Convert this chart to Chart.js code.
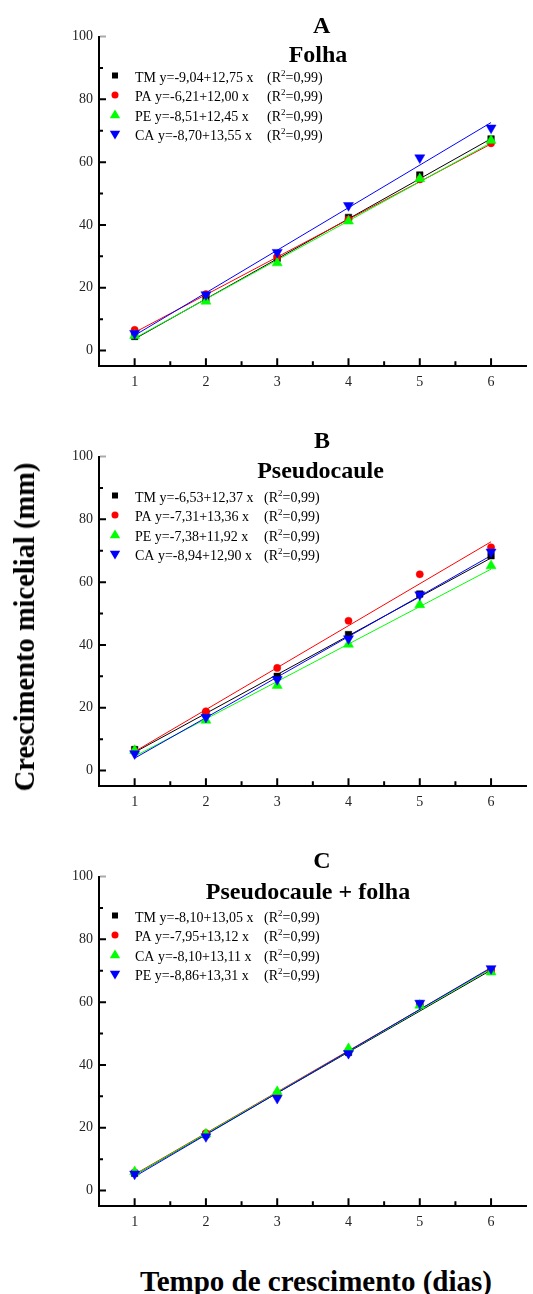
<!DOCTYPE html>
<html>
<head>
<meta charset="utf-8">
<script src="https://cdn.jsdelivr.net/npm/chart.js@4.4.1/dist/chart.umd.min.js"></script>
<style>
  body { margin: 0; background: #fff; }
  #page {
    position: relative;
    width: 533px;
    height: 1294px;
    overflow: hidden;
    font-family: "Liberation Serif", "Times New Roman", serif;
  }
  canvas { position: absolute; left: 0; }
  .axis-title {
    position: absolute;
    font-weight: bold;
    white-space: nowrap;
    color: #000;
  }
  #yTitle { font-size: 28.5px; line-height: 28px; left: 25px; top: 626.5px; transform: translate(-50%, -50%) rotate(-90deg); }
  #xTitle { font-size: 29px; line-height: 28px; left: 316px; top: 1267px; transform: translateX(-50%); }
</style>
</head>
<body>
<div id="page">
  <canvas id="chartA" width="533" height="400" style="top:0px"></canvas>
  <canvas id="chartB" width="533" height="400" style="top:420px"></canvas>
  <canvas id="chartC" width="533" height="400" style="top:840px"></canvas>
  <div class="axis-title" id="yTitle">Crescimento micelial (mm)</div>
  <div class="axis-title" id="xTitle">Tempo de crescimento (dias)</div>
</div>
<script>
const FONT = '"Liberation Serif", "Times New Roman", serif';

const days = [1, 2, 3, 4, 5, 6];
const fitDays = [1, 6];
const yTicks = [0, 20, 40, 60, 80, 100];
const yMinorTicks = [10, 30, 50, 70, 90];
const xMinorTicks = [1.5, 2.5, 3.5, 4.5, 5.5];

// A - Folha
const folhaNames = ["TM", "PA", "PE", "CA"];
const folhaEq = ["y=-9,04+12,75 x", "y=-6,21+12,00 x", "y=-8,51+12,45 x", "y=-8,70+13,55 x"];
const folhaR2 = ["0,99", "0,99", "0,99", "0,99"];
const folhaTM = [4.5, 16.6, 29.4, 42.4, 55.9, 67.4];
const folhaPA = [6.6, 18.0, 29.9, 41.8, 54.5, 66.0];
const folhaPE = [4.8, 15.7, 27.9, 41.2, 54.7, 66.9];
const folhaCA = [5.5, 17.8, 31.3, 46.2, 61.4, 70.9];
const folhaFitTM = [3.71, 67.46];
const folhaFitPA = [5.79, 65.79];
const folhaFitPE = [3.94, 66.19];
const folhaFitCA = [4.85, 72.60];

// B - Pseudocaule
const pseudoNames = ["TM", "PA", "PE", "CA"];
const pseudoEq = ["y=-6,53+12,37 x", "y=-7,31+13,36 x", "y=-7,38+11,92 x", "y=-8,94+12,90 x"];
const pseudoR2 = ["0,99", "0,99", "0,99", "0,99"];
const pseudoTM = [6.7, 18.1, 30.0, 43.3, 56.2, 68.4];
const pseudoPA = [6.2, 18.9, 32.7, 47.7, 62.5, 71.1];
const pseudoPE = [6.4, 16.0, 27.1, 40.2, 52.8, 65.2];
const pseudoCA = [5.4, 17.0, 29.0, 42.0, 56.0, 69.6];
const pseudoFitTM = [5.84, 67.69];
const pseudoFitPA = [6.05, 72.85];
const pseudoFitPE = [4.54, 64.14];
const pseudoFitCA = [3.96, 68.46];

// C - Pseudocaule + folha
const mistoNames = ["TM", "PA", "CA", "PE"];
const mistoEq = ["y=-8,10+13,05 x", "y=-7,95+13,12 x", "y=-8,10+13,11 x", "y=-8,86+13,31 x"];
const mistoR2 = ["0,99", "0,99", "0,99", "0,99"];
const mistoTM = [5.5, 17.8, 30.5, 44.0, 59.5, 69.8];
const mistoPA = [5.8, 18.3, 30.8, 44.6, 59.2, 70.0];
const mistoCA = [6.0, 18.0, 31.5, 45.2, 59.0, 69.6];
const mistoPE = [5.3, 17.2, 29.4, 43.7, 59.7, 70.7];
const mistoFitTM = [4.95, 70.20];
const mistoFitPA = [5.17, 70.77];
const mistoFitCA = [5.01, 70.56];
const mistoFitPE = [4.45, 71.00];

const markerColors = ["#000000", "#ff0000", "#00ff00", "#0000ff"];
const markerStyles = ["rect", "circle", "triangle", "triangle"];
const markerRotation = [0, 0, 0, 180];
const markerRadius = [4.6, 3.6, 5.8, 5.8];

// legend marker, drawn by hand
const drawLegendMarker = (ctx, i, x, y) => {
  ctx.fillStyle = markerColors[i];
  ctx.beginPath();
  if (i === 0) {
    ctx.rect(x - 3, y - 3, 6, 6);
  } else if (i === 1) {
    ctx.arc(x, y, 3.5, 0, Math.PI * 2);
  } else if (i === 2) {
    ctx.moveTo(x, y - 5.2);
    ctx.lineTo(x + 5.2, y + 3.6);
    ctx.lineTo(x - 5.2, y + 3.6);
  } else {
    ctx.moveTo(x, y + 5.2);
    ctx.lineTo(x + 5.2, y - 3.6);
    ctx.lineTo(x - 5.2, y - 3.6);
  }
  ctx.closePath();
  ctx.fill();
};

const panelDecor = {
  id: "panelDecor",
  afterDraw(chart, args, opts) {
    const { ctx, chartArea: area } = chart;
    const xs = chart.scales.x;
    const ys = chart.scales.y;
    ctx.save();

    // ticks: x upward inside, y to the right inside
    ctx.strokeStyle = "#000";
    ctx.lineWidth = 2;
    ctx.beginPath();
    days.forEach((v) => {
      const px = xs.getPixelForValue(v);
      ctx.moveTo(px, area.bottom);
      ctx.lineTo(px, area.bottom - 8);
    });
    xMinorTicks.forEach((v) => {
      const px = xs.getPixelForValue(v);
      ctx.moveTo(px, area.bottom);
      ctx.lineTo(px, area.bottom - 5);
    });
    yTicks.slice(0, -1).forEach((v) => {
      const py = ys.getPixelForValue(v);
      ctx.moveTo(area.left, py);
      ctx.lineTo(area.left + 7, py);
    });
    yMinorTicks.forEach((v) => {
      const py = ys.getPixelForValue(v);
      ctx.moveTo(area.left, py);
      ctx.lineTo(area.left + 4, py);
    });
    ctx.stroke();
    ctx.strokeStyle = "#aaaaaa";
    ctx.beginPath();
    const topY = ys.getPixelForValue(yTicks[yTicks.length - 1]);
    ctx.moveTo(area.left + 1, topY);
    ctx.lineTo(area.left + 7, topY);
    ctx.stroke();

    // titles
    ctx.fillStyle = "#000";
    ctx.textAlign = "center";
    ctx.textBaseline = "alphabetic";
    ctx.font = "bold 24px " + FONT;
    ctx.fillText(opts.letter, opts.letterX, opts.letterY);
    ctx.fillText(opts.title, opts.titleX, opts.titleY);

    // legend
    ctx.textAlign = "left";
    opts.baselines.forEach((b, i) => {
      drawLegendMarker(ctx, i, 115, b - 6);
      ctx.fillStyle = "#000";
      ctx.font = "14px " + FONT;
      ctx.fillText(opts.names[i] + " " + opts.eqs[i], 135, b);
      let rx = opts.r2X;
      ctx.fillText("(R", rx, b);
      rx += ctx.measureText("(R").width;
      ctx.font = "9px " + FONT;
      ctx.fillText("2", rx, b - 6);
      rx += ctx.measureText("2").width;
      ctx.font = "14px " + FONT;
      ctx.fillText("=" + opts.r2[i] + ")", rx, b);
    });
    ctx.restore();
  },
};

const buildChart = (canvasId, points, fits, decor) => {
  const datasets = [];
  fits.forEach((fit, i) => {
    datasets.push({
      type: "line",
      data: fitDays.map((d, k) => ({ x: d, y: fit[k] })),
      borderColor: markerColors[i],
      borderWidth: 1,
      pointRadius: 0,
      showLine: true,
      fill: false,
      order: 20 - i,
    });
  });
  points.forEach((vals, i) => {
    datasets.push({
      type: "scatter",
      data: days.map((d, k) => ({ x: d, y: vals[k] })),
      backgroundColor: markerColors[i],
      borderColor: markerColors[i],
      pointStyle: markerStyles[i],
      rotation: markerRotation[i],
      pointRadius: markerRadius[i],
      borderWidth: 0.5,
      order: 10 - i,
    });
  });

  return new Chart(document.getElementById(canvasId), {
    type: "scatter",
    data: { datasets },
    options: {
      responsive: false,
      animation: false,
      devicePixelRatio: 1,
      layout: { padding: { top: 36.5, left: 0, right: 0, bottom: 0 } },
      scales: {
        x: {
          type: "linear",
          min: 0.5,
          max: 6.5,
          afterBuildTicks: (s) => { s.ticks = days.map((v) => ({ value: v })); },
          afterFit: (s) => { s.height = 400 - 366.3; },
          grid: { display: false, drawTicks: false },
          border: { display: true, color: "#000", width: 2 },
          ticks: {
            font: { family: FONT, size: 14 },
            color: "#222",
            padding: 8,
            maxRotation: 0,
            autoSkip: false,
          },
        },
        y: {
          type: "linear",
          min: -5,
          max: 100,
          afterBuildTicks: (s) => { s.ticks = yTicks.map((v) => ({ value: v })); },
          afterFit: (s) => { s.width = 99; },
          grid: { display: false, drawTicks: false },
          border: { display: true, color: "#000", width: 2 },
          ticks: {
            font: { family: FONT, size: 14 },
            color: "#222",
            padding: 6,
            autoSkip: false,
          },
        },
      },
      plugins: {
        legend: { display: false },
        tooltip: { enabled: false },
        panelDecor: decor,
      },
    },
    plugins: [panelDecor],
  });
};

const baselines = [81.5, 101, 120.7, 140.3];

buildChart("chartA",
  [folhaTM, folhaPA, folhaPE, folhaCA],
  [folhaFitTM, folhaFitPA, folhaFitPE, folhaFitCA],
  { letter: "A", letterX: 321.7, letterY: 33.3, title: "Folha", titleX: 318, titleY: 62,
    names: folhaNames, eqs: folhaEq, r2: folhaR2, r2X: 267, baselines });

buildChart("chartB",
  [pseudoTM, pseudoPA, pseudoPE, pseudoCA],
  [pseudoFitTM, pseudoFitPA, pseudoFitPE, pseudoFitCA],
  { letter: "B", letterX: 322, letterY: 28.3, title: "Pseudocaule", titleX: 320.5, titleY: 57.7,
    names: pseudoNames, eqs: pseudoEq, r2: pseudoR2, r2X: 264, baselines });

buildChart("chartC",
  [mistoTM, mistoPA, mistoCA, mistoPE],
  [mistoFitTM, mistoFitPA, mistoFitCA, mistoFitPE],
  { letter: "C", letterX: 322, letterY: 28.3, title: "Pseudocaule + folha", titleX: 308, titleY: 59.3,
    names: mistoNames, eqs: mistoEq, r2: mistoR2, r2X: 264, baselines });
</script>
</body>
</html>
